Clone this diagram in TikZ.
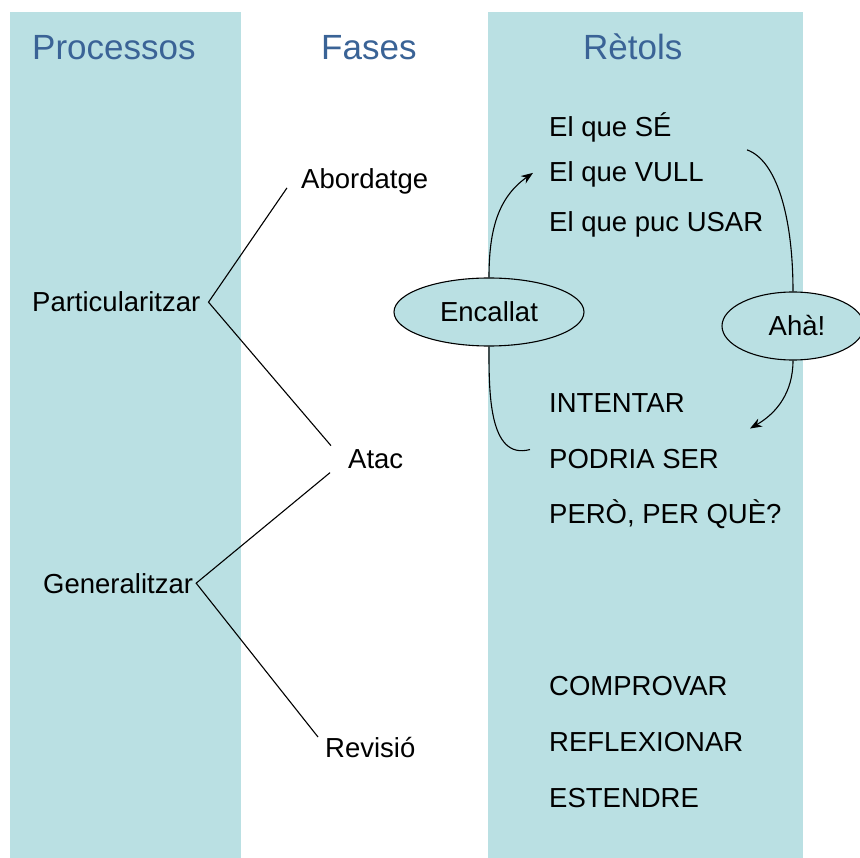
\documentclass[tikz,border=0pt]{standalone}
\usepackage{fontspec}
\setmainfont{Liberation Sans}
\usetikzlibrary{shapes.geometric,arrows.meta}
\definecolor{panel}{RGB}{186,224,227}
\definecolor{heading}{RGB}{58,99,150}
\begin{document}
\begin{tikzpicture}[x=1pt,y=-1pt,
  txt/.style={anchor=base west, inner sep=0, font=\fontsize{27.5}{33}\selectfont},
  head/.style={anchor=base west, inner sep=0, text=heading, font=\fontsize{35}{42}\selectfont},
  bubble/.style={draw, ellipse, fill=panel, inner sep=0, line width=1.1pt, font=\fontsize{27.5}{33}\selectfont},
  link/.style={draw, line width=1.1pt},
  tip/.style={-{Stealth[length=12pt,width=9pt]}}]
\useasboundingbox (0,0) rectangle (860,858);
\fill[panel] (10,12) rectangle (241,858);
\fill[panel] (488,12) rectangle (803,858);

% columns
\node[head] (proc) at (32,60) {Processos};
\node[head] (fas) at (321,60) {Fases};
\node[head] (ret) at (583,60) {Rètols};

% processos and fases
\node[txt] (part) at (32,312) {Particularitzar};
\node[txt] (gen) at (43,593) {Generalitzar};
\node[txt] (abord) at (301,189) {Abordatge};
\node[txt] (atac) at (348,469) {Atac};
\node[txt] (rev) at (325,757) {Revisió};

% retols
\node[txt] (se) at (549,137) {El que SÉ};
\node[txt] (vull) at (549,182) {El que VULL};
\node[txt] (usar) at (549,232) {El que puc USAR};
\node[txt] (int) at (549,413) {INTENTAR};
\node[txt] (pod) at (549,469) {PODRIA SER};
\node[txt] (pq) at (549,524) {PERÒ, PER QUÈ?};
\node[txt] (comp) at (549,695) {COMPROVAR};
\node[txt] (refl) at (549,751) {REFLEXIONAR};
\node[txt] (est) at (549,807) {ESTENDRE};

\node[bubble, minimum width=190, minimum height=68] (enc) at (489,312) {Encallat};
\node[bubble, minimum width=142, minimum height=68] (aha) at (793,326) {\hspace*{8pt}Ahà!};

\coordinate (abordin) at ([shift={(-14,6)}]abord.west);
\coordinate (atacup) at ([shift={(-17,-14)}]atac.west);
\coordinate (atacdn) at ([shift={(-18,13)}]atac.west);
\coordinate (revin) at ([shift={(-7,-10)}]rev.west);
\coordinate (partv) at ([xshift=8]part.east);
\coordinate (genv) at ([xshift=3]gen.east);

\path[link] (abordin) -- (partv) -- (atacup);
\path[link] (atacdn) -- (genv) -- (revin);

\coordinate (vullin) at ([shift={(-16,-2)}]vull.west);
\coordinate (podin) at ([shift={(-19,-10)}]pod.west);
\coordinate (vullout) at ([shift={(198,-25)}]vull.west);
\coordinate (podtip) at ([shift={(201,-31)}]pod.west);

\path[link,tip] (enc.north) to[out=90,in=215] (vullin);
\path[link] (enc.south) to[out=-90,in=195] (podin);
\path[link] (vullout) .. controls (776,160) and (793,215) .. (aha.north);
\path[link,tip] (aha.south) to[out=-90,in=30] (podtip);
\end{tikzpicture}
\end{document}
